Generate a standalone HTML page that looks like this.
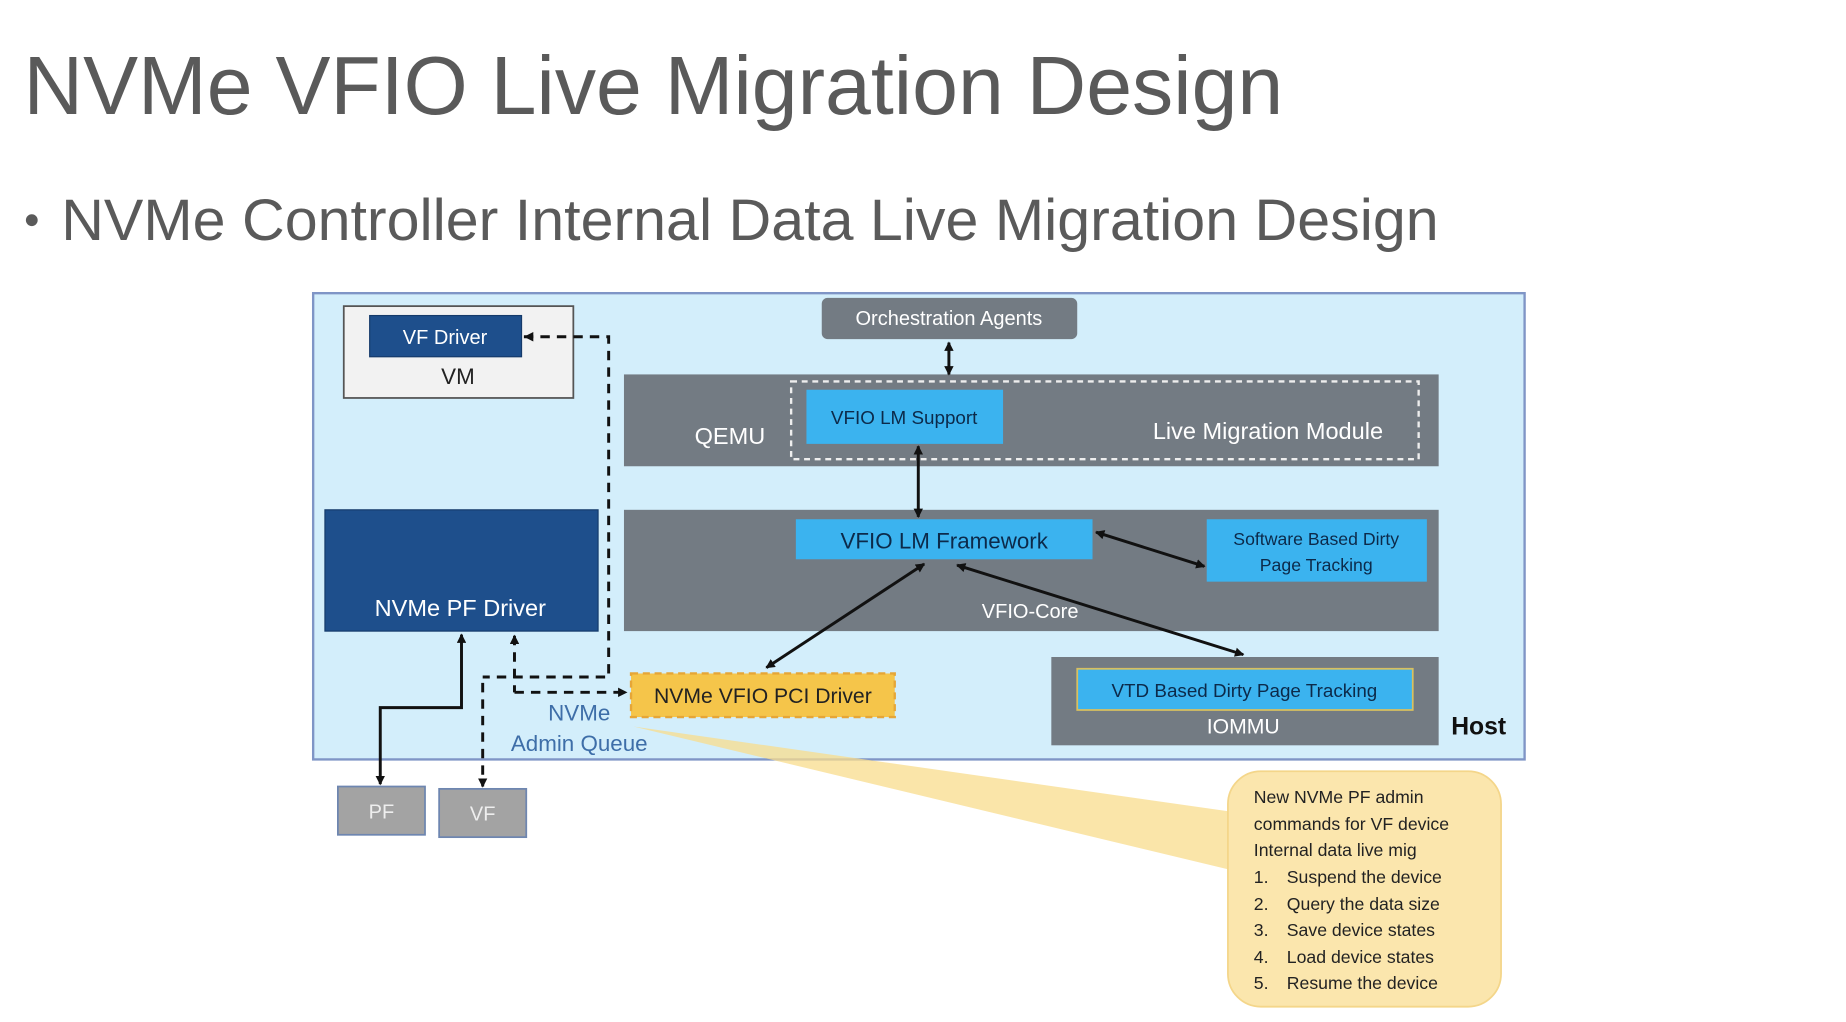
<!DOCTYPE html>
<html><head><meta charset="utf-8"><style>
html,body{margin:0;padding:0;background:#fff;}
svg{display:block;}
text{font-family:"Liberation Sans",sans-serif;}
</style></head><body>
<svg width="1846" height="1022" viewBox="0 0 1568 868" preserveAspectRatio="none" xmlns="http://www.w3.org/2000/svg">
<defs>
<marker id="ah" markerWidth="8" markerHeight="8" refX="7" refY="4" orient="auto-start-reverse" markerUnits="userSpaceOnUse">
<path d="M0,0 L8,4 L0,8 z" fill="#111"/></marker>
</defs>
<rect width="1568" height="868" fill="#fff"/>
<text x="20" y="97" font-size="70" fill="#5a5a5a" textLength="1070" lengthAdjust="spacingAndGlyphs">NVMe VFIO Live Migration Design</text>
<circle cx="27" cy="187" r="5" fill="#5a5a5a"/>
<text x="52" y="204" font-size="50" fill="#5a5a5a" textLength="1170" lengthAdjust="spacingAndGlyphs">NVMe Controller Internal Data Live Migration Design</text>

<rect x="266" y="249" width="1029" height="396" fill="#d3eefb" stroke="#7f95c6" stroke-width="2"/>
<rect x="292" y="260" width="195" height="78" fill="#f2f2f2" stroke="#555" stroke-width="1.5"/>
<rect x="314" y="268" width="129" height="35" fill="#1e4f8c" stroke="#153a6a"/>
<text x="378" y="292" font-size="17" fill="#fff" text-anchor="middle">VF Driver</text>
<text x="389" y="326" font-size="19" fill="#222" text-anchor="middle">VM</text>
<rect x="698" y="253" width="217" height="35" rx="5" fill="#737b83"/>
<text x="806" y="276" font-size="17" fill="#fff" text-anchor="middle">Orchestration Agents</text>
<rect x="530" y="318" width="692" height="78" fill="#737b83"/>
<rect x="672" y="324" width="533" height="66" fill="none" stroke="#eee" stroke-width="2" stroke-dasharray="5,4"/>
<rect x="685" y="331" width="167" height="46" fill="#3bb3ef"/>
<text x="768" y="360" font-size="16" fill="#0c2a4a" text-anchor="middle">VFIO LM Support</text>
<text x="620" y="377" font-size="20" fill="#fff" text-anchor="middle">QEMU</text>
<text x="1077" y="373" font-size="20" fill="#fff" text-anchor="middle">Live Migration Module</text>
<rect x="530" y="433" width="692" height="103" fill="#737b83"/>
<rect x="676" y="441" width="252" height="34" fill="#3bb3ef"/>
<text x="802" y="466" font-size="19" fill="#0c2a4a" text-anchor="middle">VFIO LM Framework</text>
<rect x="1025" y="441" width="187" height="53" fill="#3bb3ef"/>
<text x="1118" y="463" font-size="15" fill="#0c2a4a" text-anchor="middle">Software Based Dirty</text>
<text x="1118" y="485" font-size="15" fill="#0c2a4a" text-anchor="middle">Page Tracking</text>
<text x="875" y="525" font-size="17" fill="#fff" text-anchor="middle">VFIO-Core</text>
<rect x="276" y="433" width="232" height="103" fill="#1e4f8c" stroke="#153a6a"/>
<text x="391" y="523" font-size="20" fill="#fff" text-anchor="middle">NVMe PF Driver</text>
<rect x="893" y="558" width="329" height="75" fill="#737b83"/>
<rect x="915" y="568" width="285" height="35" fill="#3bb3ef" stroke="#d8c060" stroke-width="1.5"/>
<text x="1057" y="592" font-size="16" fill="#0c2a4a" text-anchor="middle">VTD Based Dirty Page Tracking</text>
<text x="1056" y="623" font-size="18" fill="#fff" text-anchor="middle">IOMMU</text>
<text x="1256" y="624" font-size="21" font-weight="bold" fill="#111" text-anchor="middle">Host</text>

<polygon points="538,617 1050,690 1050,740" fill="#f8dc8c" opacity="0.75"/>
<rect x="1043" y="655" width="232" height="200" rx="28" fill="#fbe6ad" stroke="#f4d68a" stroke-width="1.5"/>
<g font-size="15" fill="#222">
<text x="1065" y="682">New NVMe PF admin</text>
<text x="1065" y="705">commands for VF device</text>
<text x="1065" y="727">Internal data live mig</text>
<text x="1065" y="750">1.</text><text x="1093" y="750">Suspend the device</text>
<text x="1065" y="773">2.</text><text x="1093" y="773">Query the data size</text>
<text x="1065" y="795">3.</text><text x="1093" y="795">Save device states</text>
<text x="1065" y="818">4.</text><text x="1093" y="818">Load device states</text>
<text x="1065" y="840">5.</text><text x="1093" y="840">Resume the device</text>
</g>

<rect x="536" y="572" width="224" height="37" fill="#f5c54a" stroke="#e6a637" stroke-width="2" stroke-dasharray="6,4"/>
<text x="648" y="597" font-size="18" fill="#222" text-anchor="middle">NVMe VFIO PCI Driver</text>
<text x="492" y="612" font-size="19" fill="#3e6ea8" text-anchor="middle">NVMe</text>
<text x="492" y="638" font-size="19" fill="#3e6ea8" text-anchor="middle">Admin Queue</text>

<rect x="287" y="668" width="74" height="41" fill="#a3a3a3" stroke="#6e86b0" stroke-width="1.5"/>
<text x="324" y="695" font-size="17" fill="#eee" text-anchor="middle">PF</text>
<rect x="373" y="670" width="74" height="41" fill="#a3a3a3" stroke="#6e86b0" stroke-width="1.5"/>
<text x="410" y="697" font-size="17" fill="#eee" text-anchor="middle">VF</text>

<g stroke="#111" stroke-width="2.5" fill="none">
<line x1="806" y1="291" x2="806" y2="318" marker-start="url(#ah)" marker-end="url(#ah)"/>
<line x1="780" y1="379" x2="780" y2="439" marker-start="url(#ah)" marker-end="url(#ah)"/>
<line x1="931" y1="452" x2="1023" y2="481" marker-start="url(#ah)" marker-end="url(#ah)"/>
<line x1="785" y1="479" x2="651" y2="567" marker-start="url(#ah)" marker-end="url(#ah)"/>
<line x1="813" y1="480" x2="1056" y2="556" marker-start="url(#ah)" marker-end="url(#ah)"/>
<polyline points="392,539 392,601 323,601 323,666" marker-start="url(#ah)" marker-end="url(#ah)"/>
</g>
<g stroke="#111" stroke-width="2.5" fill="none" stroke-dasharray="8,6">
<polyline points="445,286 517,286 517,575 410,575"/>
<line x1="437" y1="540" x2="437" y2="588" marker-start="url(#ah)"/>
<line x1="437" y1="588" x2="532" y2="588" marker-end="url(#ah)"/>
<line x1="410" y1="580" x2="410" y2="668" marker-end="url(#ah)"/>
</g>
<path d="M445,286 l8,-4 v8 z" fill="#111"/>
</svg>
</body></html>
